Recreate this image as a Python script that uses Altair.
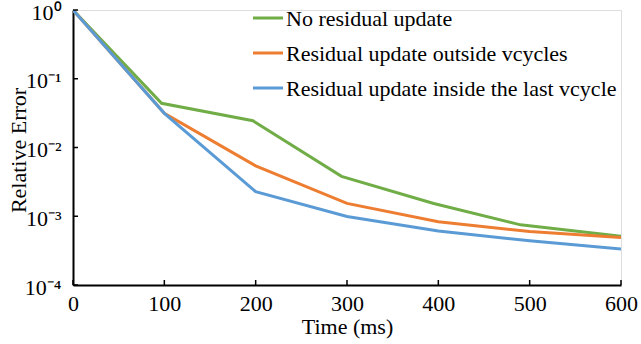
import altair as alt
import pandas as pd

series_names = [
    "No residual update",
    "Residual update outside vcycles",
    "Residual update inside the last vcycle",
]
series_colors = ["#70AD47", "#ED7D31", "#5B9BD5"]

time_green = [0, 97, 197, 294, 395, 490, 600]
err_green = [1.0, 0.044, 0.0245, 0.0038, 0.00153, 0.00075, 0.00051]

time_orange = [0, 100, 200, 300, 400, 500, 600]
err_orange = [1.0, 0.0314, 0.0054, 0.00154, 0.00083, 0.0006, 0.00049]

time_blue = [0, 100, 200, 300, 400, 500, 600]
err_blue = [1.0, 0.0314, 0.00228, 0.00099, 0.00061, 0.00044, 0.000335]

x_ticks = [0, 100, 200, 300, 400, 500, 600]
y_ticks = [1e-4, 1e-3, 1e-2, 1e-1, 1.0]
y_tick_labels = ["10⁻⁴", "10⁻³", "10⁻²", "10⁻¹", "10⁰"]

rows = []
for name, ts, es in zip(series_names, [time_green, time_orange, time_blue],
                        [err_green, err_orange, err_blue]):
    for t, e in zip(ts, es):
        rows.append({"series": name, "time": t, "err": e})
df = pd.DataFrame(rows)

W, H = 548, 275
FONT = "Liberation Serif"
FS = 22

label_array = "[" + ",".join("'" + s + "'" for s in y_tick_labels) + "]"

x_scale = alt.Scale(domain=[0, 600], nice=False)
y_scale = alt.Scale(type="log", domain=[1e-4, 1], nice=False)

lines = alt.Chart(df).mark_line(strokeWidth=3, clip=True).encode(
    x=alt.X("time:Q", scale=x_scale,
            axis=alt.Axis(values=x_ticks, title="Time (ms)", grid=False,
                          tickSize=0, labelPadding=8, titlePadding=2,
                          labelFlush=False,
                          labelFontSize=FS, titleFontSize=FS,
                          labelFont=FONT, titleFont=FONT,
                          labelColor="black", titleColor="black",
                          titleFontWeight="normal",
                          domainColor="black", domainWidth=2)),
    y=alt.Y("err:Q", scale=y_scale,
            axis=alt.Axis(values=y_ticks, title="Relative Error", grid=False,
                          tickSize=0, labelPadding=12, labelOffset=2,
                          titleX=-55, titleY=140, titleAngle=-90,
                          titleAlign="center", titleBaseline="middle",
                          labelExpr=label_array + "[round(log(datum.value)/LN10)+4]",
                          labelFontSize=FS, titleFontSize=FS,
                          labelFont=FONT, titleFont=FONT,
                          labelColor="black", titleColor="black",
                          titleFontWeight="normal",
                          domainColor="black", domainWidth=2)),
    color=alt.Color("series:N", sort=series_names,
                    scale=alt.Scale(domain=series_names, range=series_colors),
                    legend=None),
    order="time:Q",
)

xt = pd.DataFrame({"v": x_ticks})
yt = pd.DataFrame({"v": y_ticks})

x_tick_marks = alt.Chart(xt).mark_rule(color="black", strokeWidth=1.5).encode(
    x=alt.X("v:Q", scale=x_scale),
    y=alt.value(H), y2=alt.value(H - 5),
)
y_tick_marks = alt.Chart(yt).mark_rule(color="black", strokeWidth=1.5).encode(
    y=alt.Y("v:Q", scale=y_scale),
    x=alt.value(0), x2=alt.value(5),
)

# legend drawn in the top-right corner of the plot area
LEG_X0, LEG_X1, LEG_TX = 180, 210, 213
LEG_Y0, LEG_DY = 8, 35
legend_layers = []
for i, (name, col) in enumerate(zip(series_names, series_colors)):
    ld = pd.DataFrame({"label": [name]})
    yy = LEG_Y0 + LEG_DY * i
    legend_layers.append(
        alt.Chart(ld).mark_rule(color=col, strokeWidth=3).encode(
            x=alt.value(LEG_X0), x2=alt.value(LEG_X1), y=alt.value(yy)))
    legend_layers.append(
        alt.Chart(ld).mark_text(font=FONT, fontSize=FS, color="black",
                                align="left", baseline="middle").encode(
            x=alt.value(LEG_TX), y=alt.value(yy + 1), text="label:N"))

chart = alt.layer(lines, x_tick_marks, y_tick_marks, *legend_layers).properties(
    width=W, height=H,
    autosize=alt.AutoSizeParams(type="none"),
    padding={"left": 73, "top": 10, "right": 20, "bottom": 59},
).configure_view(stroke=None).configure(background="white")

chart.save("out.html", embed_options={"renderer": "svg", "actions": False})
